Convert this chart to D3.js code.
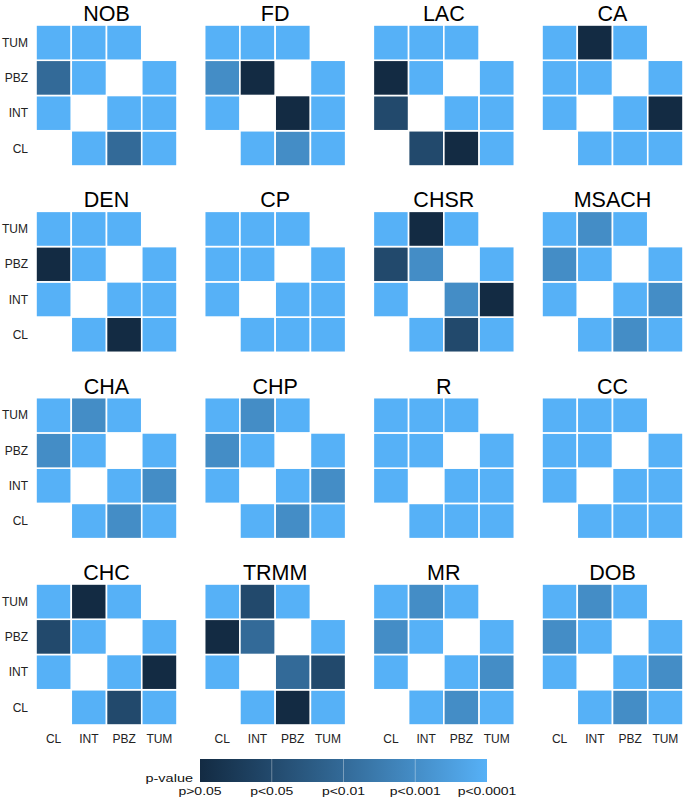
<!DOCTYPE html>
<html>
<head>
<meta charset="utf-8">
<script src="https://cdn.jsdelivr.net/npm/d3@7"></script>
<style>
  body { margin: 0; background: #fff; }
  svg { display: block; font-family: "Liberation Sans", Arial, sans-serif; }
</style>
</head>
<body>
<div id="chart"></div>
<script>
// tissue pairs, order of the values in each panel
const PAIRS = [["CL", "INT"], ["CL", "PBZ"], ["CL", "TUM"], ["INT", "PBZ"], ["INT", "TUM"], ["PBZ", "TUM"]];
const X_LEVELS = ["CL", "INT", "PBZ", "TUM"];
const Y_LEVELS = ["TUM", "PBZ", "INT", "CL"];

// significance level per pair: 1 = p>0.05 ... 5 = p<0.0001
const PANELS = ["NOB", "FD", "LAC", "CA", "DEN", "CP", "CHSR", "MSACH", "CHA", "CHP", "R", "CC", "CHC", "TRMM", "MR", "DOB"];
const nob = [5, 3, 5, 5, 5, 5];
const fd = [5, 4, 5, 1, 5, 5];
const lac = [2, 1, 5, 5, 5, 5];
const ca = [5, 5, 5, 5, 1, 5];
const den = [5, 1, 5, 5, 5, 5];
const cp = [5, 5, 5, 5, 5, 5];
const chsr = [5, 2, 5, 4, 1, 5];
const msach = [5, 4, 5, 5, 4, 5];
const cha = [5, 4, 5, 5, 4, 5];
const chp = [5, 4, 5, 5, 4, 5];
const r = [5, 5, 5, 5, 5, 5];
const cc = [5, 5, 5, 5, 5, 5];
const chc = [5, 2, 5, 5, 1, 5];
const trmm = [5, 1, 5, 3, 2, 5];
const mr = [5, 4, 5, 5, 4, 5];
const dob = [5, 4, 5, 5, 4, 5];
const VALUES = [nob, fd, lac, ca, den, cp, chsr, msach, cha, chp, r, cc, chc, trmm, mr, dob];

const LEGEND_LABELS = ["p>0.05", "p<0.05", "p<0.01", "p<0.001", "p<0.0001"];

const width = 692;
const height = 800;
const panelSize = 141;

const svg = d3.select("#chart").append("svg")
  .attr("width", width)
  .attr("height", height);

const color = d3.scaleLinear()
  .domain([1, 5])
  .range(["#132B43", "#56B1F7"])
  .interpolate(d3.interpolateLab);

const colX = d3.scaleLinear().domain([0, 3]).range([36, 542]);
const rowY = d3.scaleLinear().domain([0, 3]).range([25, 584]);

PANELS.forEach((name, i) => {
  const col = i % 4;
  const row = Math.floor(i / 4);
  const x0 = colX(col);
  const y0 = rowY(row);

  const x = d3.scaleBand().domain(X_LEVELS).range([x0, x0 + panelSize]);
  const y = d3.scaleBand().domain(Y_LEVELS).range([y0, y0 + panelSize]);

  // symmetric matrix: each pair fills two cells
  const cells = [];
  PAIRS.forEach(([a, b], k) => {
    const v = VALUES[i][k];
    cells.push({ col: a, row: b, value: v });
    cells.push({ col: b, row: a, value: v });
  });

  const g = svg.append("g").attr("class", "panel");

  g.selectAll("rect")
    .data(cells)
    .join("rect")
    .attr("x", (d) => x(d.col))
    .attr("y", (d) => y(d.row))
    .attr("width", x.bandwidth())
    .attr("height", y.bandwidth())
    .attr("fill", (d) => color(d.value))
    .attr("stroke", "#fff")
    .attr("stroke-width", 1.6);

  g.append("text")
    .attr("x", x0 + panelSize / 2)
    .attr("y", y0 - 4)
    .attr("text-anchor", "middle")
    .attr("font-size", 21.5)
    .attr("fill", "#000")
    .text(name);

  if (col === 0) {
    g.selectAll("text.ylab")
      .data(Y_LEVELS)
      .join("text")
      .attr("class", "ylab")
      .attr("x", x0 - 8)
      .attr("y", (d) => y(d) + y.bandwidth() / 2)
      .attr("dy", "0.35em")
      .attr("text-anchor", "end")
      .attr("font-size", 12)
      .attr("fill", "#222")
      .text((d) => d);
  }

  if (row === 3) {
    g.selectAll("text.xlab")
      .data(X_LEVELS)
      .join("text")
      .attr("class", "xlab")
      .attr("x", (d) => x(d) + x.bandwidth() / 2)
      .attr("y", y0 + panelSize + 18)
      .attr("text-anchor", "middle")
      .attr("font-size", 12)
      .attr("fill", "#222")
      .text((d) => d);
  }
});

// colour bar legend
const legendScale = d3.scaleLinear().domain([1, 5]).range([200, 487]);
const barTop = 759;
const barHeight = 23;

const defs = svg.append("defs");
const grad = defs.append("linearGradient").attr("id", "pgrad");
d3.range(0, 1.0001, 0.1).forEach((t) => {
  grad.append("stop")
    .attr("offset", `${t * 100}%`)
    .attr("stop-color", color(1 + t * 4));
});

const legend = svg.append("g").attr("class", "legend");
legend.append("rect")
  .attr("x", legendScale(1))
  .attr("y", barTop)
  .attr("width", legendScale(5) - legendScale(1))
  .attr("height", barHeight)
  .attr("fill", "url(#pgrad)");

legend.selectAll("line")
  .data([2, 3, 4])
  .join("line")
  .attr("x1", (d) => legendScale(d))
  .attr("x2", (d) => legendScale(d))
  .attr("y1", barTop)
  .attr("y2", barTop + barHeight)
  .attr("stroke", "#fff")
  .attr("stroke-opacity", 0.35)
  .attr("stroke-width", 1);

legend.append("text")
  .attr("transform", `translate(193,${barTop + barHeight}) scale(1,0.75)`)
  .attr("text-anchor", "end")
  .attr("font-size", 14.5)
  .attr("fill", "#111")
  .text("p-value");

legend.selectAll("text.tick")
  .data(LEGEND_LABELS)
  .join("text")
  .attr("class", "tick")
  .attr("transform", (d, i) => `translate(${legendScale(i + 1)},795) scale(1,0.75)`)
  .attr("text-anchor", "middle")
  .attr("font-size", 14)
  .attr("fill", "#111")
  .text((d) => d);
</script>
</body>
</html>
